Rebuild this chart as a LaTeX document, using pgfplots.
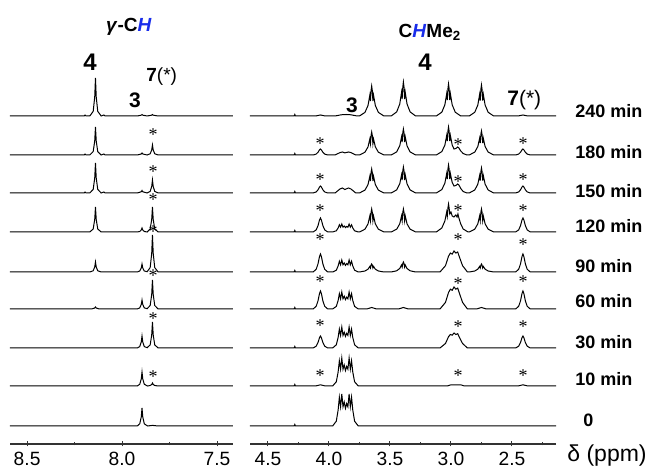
\documentclass[border=0pt]{standalone}
\usepackage{fontspec}
\setmainfont{Liberation Sans}
\newfontfamily\starfont{Liberation Serif}
\usepackage{xcolor}
\usepackage{pgfplots}
\pgfplotsset{compat=1.18}
\definecolor{hblue}{RGB}{25,45,235}

% 1 px of the reference = 0.5pt; 1 y unit = 1 px
\pgfplotsset{
  nmr/.style={
    scale only axis, height=222pt, ymin=0, ymax=444,
    x dir=reverse, axis x line*=bottom, axis y line=none,
    clip=false, anchor=south west,
    x axis line style={-, line width=0.6pt, draw=black!80},
    tick style={black!80, line width=0.5pt},
    major tick length=2.5pt, minor tick length=1.5pt, tick align=center,
    xticklabel style={font=\fontsize{9.6}{9.6}\selectfont, inner sep=0pt, yshift=-2.6pt},
    /pgf/number format/fixed, /pgf/number format/fixed zerofill,
    /pgf/number format/precision=1, /pgf/number format/assume math mode=true,
  },
  spec/.style={black, line width=0.5pt, mark=none},
}

\begin{document}
\begin{tikzpicture}
\useasboundingbox (0,0) rectangle (324pt,234.5pt);

% ---------------- gamma-CH region ----------------
\begin{axis}[nmr, at={(5pt,12.5pt)}, width=111.5pt,
  xmin=7.416, xmax=8.59,
  xtick={7.5,8,8.5}, minor xtick={7.75,8.25}]
% 240 min
\addplot[spec] table[row sep=\\, y expr=\thisrow{y}+328] {x y\\
8.59 0\\ 8.20 0\\ 8.195 1\\ 8.19 0\\ 8.17 0\\ 8.152 4.6\\ 8.144 19\\ 8.14 38\\ 8.136 19\\ 8.128 4.6\\ 8.11 0\\ 8.095 1\\ 8.09 0\\
7.92 0\\ 7.899 0.8\\ 7.895 1.5\\ 7.891 0.8\\ 7.868 0\\ 7.844 0.8\\ 7.84 1.5\\ 7.836 0.8\\ 7.81 0\\ 7.416 0\\};
% 180 min
\addplot[spec] table[row sep=\\, y expr=\thisrow{y}+289] {x y\\
8.59 0\\ 8.20 0\\ 8.195 1\\ 8.19 0\\ 8.17 0\\ 8.152 3.4\\ 8.144 14\\ 8.14 28\\ 8.136 14\\ 8.128 3.4\\ 8.11 0\\ 8.095 1\\ 8.09 0\\
7.92 0\\ 7.899 1\\ 7.895 2\\ 7.891 1\\ 7.868 0\\ 7.852 1.2\\ 7.844 5\\ 7.84 10\\ 7.836 5\\ 7.828 1.2\\ 7.81 0\\ 7.416 0\\};
% 150 min
\addplot[spec] table[row sep=\\, y expr=\thisrow{y}+251] {x y\\
8.59 0\\ 8.20 0\\ 8.195 1\\ 8.19 0\\ 8.17 0\\ 8.152 3.6\\ 8.144 15\\ 8.14 30\\ 8.136 15\\ 8.128 3.6\\ 8.11 0\\ 8.095 1\\ 8.09 0\\
7.92 0\\ 7.899 1.2\\ 7.895 2.5\\ 7.891 1.2\\ 7.868 0\\ 7.852 1.6\\ 7.844 6.5\\ 7.84 13\\ 7.836 6.5\\ 7.828 1.6\\ 7.81 0\\ 7.416 0\\};
% 120 min
\addplot[spec] table[row sep=\\, y expr=\thisrow{y}+212] {x y\\
8.59 0\\ 8.17 0\\ 8.152 3\\ 8.144 12.5\\ 8.14 25\\ 8.136 12.5\\ 8.128 3\\ 8.11 0\\
7.92 0\\ 7.907 0.5\\ 7.899 2\\ 7.895 4\\ 7.891 2\\ 7.883 0.5\\ 7.868 0\\ 7.852 3\\ 7.844 12.5\\ 7.84 25\\ 7.836 12.5\\ 7.828 3\\ 7.81 0\\ 7.416 0\\};
% 90 min
\addplot[spec] table[row sep=\\, y expr=\thisrow{y}+172] {x y\\
8.59 0\\ 8.17 0\\ 8.152 1.2\\ 8.144 5\\ 8.14 10\\ 8.136 5\\ 8.128 1.2\\ 8.11 0\\
7.92 0\\ 7.907 1\\ 7.899 4\\ 7.895 8\\ 7.891 4\\ 7.883 1\\ 7.868 0.3\\ 7.852 4.4\\ 7.844 18.5\\ 7.84 37\\ 7.836 18.5\\ 7.828 4.4\\ 7.81 0\\ 7.416 0\\};
% 60 min
\addplot[spec] table[row sep=\\, y expr=\thisrow{y}+135] {x y\\
8.59 0\\ 8.16 0\\ 8.144 1\\ 8.14 2\\ 8.136 1\\ 8.12 0\\
7.92 0\\ 7.907 1.1\\ 7.899 4.5\\ 7.895 9\\ 7.891 4.5\\ 7.883 1.1\\ 7.868 0.3\\ 7.852 3.5\\ 7.844 14.5\\ 7.84 29\\ 7.836 14.5\\ 7.828 3.5\\ 7.81 0\\ 7.416 0\\};
% 30 min
\addplot[spec] table[row sep=\\, y expr=\thisrow{y}+96] {x y\\
8.59 0\\ 7.92 0\\ 7.907 1.4\\ 7.899 6\\ 7.895 12\\ 7.891 6\\ 7.883 1.4\\ 7.868 0.3\\ 7.852 3.1\\ 7.844 13\\ 7.84 26\\ 7.836 13\\ 7.828 3.1\\ 7.81 0\\ 7.416 0\\};
% 10 min
\addplot[spec] table[row sep=\\, y expr=\thisrow{y}+58] {x y\\
8.59 0\\ 7.92 0\\ 7.907 1.7\\ 7.899 7\\ 7.895 14\\ 7.891 7\\ 7.883 1.7\\ 7.866 0\\ 7.852 0.5\\ 7.844 1.5\\ 7.84 3\\ 7.836 1.5\\ 7.828 0.5\\ 7.81 0\\ 7.416 0\\};
% 0
\addplot[spec] table[row sep=\\, y expr=\thisrow{y}+18] {x y\\
8.59 0\\ 7.92 0\\ 7.907 2.2\\ 7.899 9\\ 7.895 18\\ 7.891 9\\ 7.883 2.2\\ 7.866 0\\ 7.84 0.6\\ 7.81 0\\ 7.416 0\\};
\end{axis}

% ---------------- CHMe2 region ----------------
\begin{axis}[nmr, at={(125pt,12.5pt)}, width=153pt,
  xmin=2.139, xmax=4.6475,
  xtick={2.5,3,3.5,4,4.5}, minor xtick={2.25,2.75,3.25,3.75,4.25}]
% 240 min
\addplot[spec] table[row sep=\\, y expr=\thisrow{y}+328] {x y\\
4.6475 0\\ 4.285 0\\ 4.28 1.5\\ 4.275 0\\ 4.11 0\\ 4.07 1\\ 4.03 0\\ 3.95 0\\ 3.90 1.2\\ 3.86 1.5\\ 3.82 1.2\\ 3.77 0\\
3.75 0\\ 3.705 3.6\\ 3.68 10.5\\ 3.665 21\\ 3.66 15\\ 3.655 25.5\\ 3.65 30\\ 3.645 25.5\\ 3.64 15\\ 3.635 21\\ 3.62 10.5\\ 3.595 3.6\\ 3.55 0\\
3.49 0\\ 3.445 4.1\\ 3.42 11.9\\ 3.405 23.8\\ 3.40 17\\ 3.395 28.9\\ 3.39 34\\ 3.385 28.9\\ 3.38 17\\ 3.375 23.8\\ 3.36 11.9\\ 3.335 4.1\\ 3.29 0\\
3.12 0\\ 3.075 3.8\\ 3.05 11.2\\ 3.035 22.4\\ 3.03 16\\ 3.025 27.2\\ 3.02 32\\ 3.015 27.2\\ 3.01 16\\ 3.005 22.4\\ 2.99 11.2\\ 2.965 3.8\\ 2.92 0\\
2.85 0\\ 2.805 3.7\\ 2.78 10.9\\ 2.765 21.7\\ 2.76 15.5\\ 2.755 26.4\\ 2.75 31\\ 2.745 26.4\\ 2.74 15.5\\ 2.735 21.7\\ 2.72 10.9\\ 2.695 3.7\\ 2.65 0\\
2.45 0\\ 2.41 1\\ 2.37 0\\ 2.139 0\\};
% 180 min
\addplot[spec] table[row sep=\\, y expr=\thisrow{y}+289] {x y\\
4.6475 0\\ 4.285 0\\ 4.28 1.5\\ 4.275 0\\ 4.13 0\\ 4.105 0.9\\ 4.09 2.7\\ 4.078 5.1\\ 4.07 6\\ 4.062 5.1\\ 4.05 2.7\\ 4.035 0.9\\ 4.01 0\\
3.95 0\\ 3.91 2.4\\ 3.89 3\\ 3.87 2.1\\ 3.84 3\\ 3.82 2.4\\ 3.78 0\\
3.75 0\\ 3.705 2.8\\ 3.68 8.1\\ 3.665 16.1\\ 3.66 11.5\\ 3.655 19.6\\ 3.65 23\\ 3.645 19.6\\ 3.64 11.5\\ 3.635 16.1\\ 3.62 8.1\\ 3.595 2.8\\ 3.55 0\\
3.49 0\\ 3.445 3.1\\ 3.42 9.1\\ 3.405 18.2\\ 3.40 13\\ 3.395 22.1\\ 3.39 26\\ 3.385 22.1\\ 3.38 13\\ 3.375 18.2\\ 3.36 9.1\\ 3.335 3.1\\ 3.29 0\\
3.12 0\\ 3.075 3.4\\ 3.05 9.8\\ 3.035 19.6\\ 3.03 14\\ 3.025 23.8\\ 3.02 28\\ 3.015 23.8\\ 3.01 14\\ 3.005 19.6\\ 2.99 10\\ 2.975 6\\ 2.96 6.5\\ 2.945 8\\ 2.935 7\\ 2.92 4\\ 2.90 1.5\\ 2.87 0\\
2.85 0\\ 2.805 2.9\\ 2.78 8.4\\ 2.765 16.8\\ 2.76 12\\ 2.755 20.4\\ 2.75 24\\ 2.745 20.4\\ 2.74 12\\ 2.735 16.8\\ 2.72 8.4\\ 2.695 2.9\\ 2.65 0\\
2.47 0\\ 2.445 0.9\\ 2.43 2.7\\ 2.418 5.1\\ 2.41 6\\ 2.402 5.1\\ 2.39 2.7\\ 2.375 0.9\\ 2.35 0\\ 2.139 0\\};
% 150 min
\addplot[spec] table[row sep=\\, y expr=\thisrow{y}+251] {x y\\
4.6475 0\\ 4.285 0\\ 4.28 1.5\\ 4.275 0\\ 4.13 0\\ 4.105 1.05\\ 4.09 3.15\\ 4.078 5.95\\ 4.07 7\\ 4.062 5.95\\ 4.05 3.15\\ 4.035 1.05\\ 4.01 0\\
3.95 0\\ 3.91 4\\ 3.89 5\\ 3.87 3.5\\ 3.84 5\\ 3.82 4\\ 3.78 0\\
3.75 0\\ 3.705 2.9\\ 3.68 8.4\\ 3.665 16.8\\ 3.66 12\\ 3.655 20.4\\ 3.65 24\\ 3.645 20.4\\ 3.64 12\\ 3.635 16.8\\ 3.62 8.4\\ 3.595 2.9\\ 3.55 0\\
3.49 0\\ 3.445 3.1\\ 3.42 9.1\\ 3.405 18.2\\ 3.40 13\\ 3.395 22.1\\ 3.39 26\\ 3.385 22.1\\ 3.38 13\\ 3.375 18.2\\ 3.36 9.1\\ 3.335 3.1\\ 3.29 0\\
3.12 0\\ 3.075 3.4\\ 3.05 9.8\\ 3.035 19.6\\ 3.03 14\\ 3.025 23.8\\ 3.02 28\\ 3.015 23.8\\ 3.01 14\\ 3.005 19.6\\ 2.99 10.5\\ 2.975 7\\ 2.96 7.5\\ 2.945 9\\ 2.935 8\\ 2.92 4.5\\ 2.90 1.5\\ 2.87 0\\
2.85 0\\ 2.805 3\\ 2.78 8.8\\ 2.765 17.5\\ 2.76 12.5\\ 2.755 21.3\\ 2.75 25\\ 2.745 21.3\\ 2.74 12.5\\ 2.735 17.5\\ 2.72 8.8\\ 2.695 3\\ 2.65 0\\
2.47 0\\ 2.445 1.05\\ 2.43 3.15\\ 2.418 5.95\\ 2.41 7\\ 2.402 5.95\\ 2.39 3.15\\ 2.375 1.05\\ 2.35 0\\ 2.139 0\\};
% 120 min
\addplot[spec] table[row sep=\\, y expr=\thisrow{y}+212] {x y\\
4.6475 0\\ 4.285 0\\ 4.28 1.5\\ 4.275 0\\ 4.13 0\\ 4.105 2.1\\ 4.09 6.3\\ 4.078 11.9\\ 4.07 14\\ 4.062 11.9\\ 4.05 6.3\\ 4.035 2.1\\ 4.01 0\\
3.97 0\\ 3.94 1.2\\ 3.925 4\\ 3.915 7.2\\ 3.905 4.8\\ 3.895 8\\ 3.885 4.8\\ 3.875 6\\ 3.865 4.4\\ 3.855 5.6\\ 3.845 4.8\\ 3.835 8\\ 3.825 4.8\\ 3.815 7.2\\ 3.805 4\\ 3.79 1.2\\ 3.76 0\\
3.75 0\\ 3.705 2.8\\ 3.68 8.1\\ 3.665 16.1\\ 3.66 11.5\\ 3.655 19.6\\ 3.65 23\\ 3.645 19.6\\ 3.64 11.5\\ 3.635 16.1\\ 3.62 8.1\\ 3.595 2.8\\ 3.55 0\\
3.49 0\\ 3.445 2.8\\ 3.42 8.1\\ 3.405 16.1\\ 3.40 11.5\\ 3.395 19.6\\ 3.39 23\\ 3.385 19.6\\ 3.38 11.5\\ 3.375 16.1\\ 3.36 8.1\\ 3.335 2.8\\ 3.29 0\\
3.12 0\\ 3.075 4\\ 3.05 11\\ 3.035 20\\ 3.03 16\\ 3.025 24\\ 3.02 28\\ 3.015 24\\ 3.01 18\\ 3.0 20\\ 2.99 16\\ 2.975 15\\ 2.96 17\\ 2.95 15\\ 2.943 18\\ 2.935 14\\ 2.92 8\\ 2.90 3\\ 2.86 0\\
2.85 0\\ 2.805 2.8\\ 2.78 8.1\\ 2.765 16.1\\ 2.76 11.5\\ 2.755 19.6\\ 2.75 23\\ 2.745 19.6\\ 2.74 11.5\\ 2.735 16.1\\ 2.72 8.1\\ 2.695 2.8\\ 2.65 0\\
2.47 0\\ 2.445 2.1\\ 2.43 6.3\\ 2.418 11.9\\ 2.41 14\\ 2.402 11.9\\ 2.39 6.3\\ 2.375 2.1\\ 2.35 0\\ 2.139 0\\};
% 90 min
\addplot[spec] table[row sep=\\, y expr=\thisrow{y}+172] {x y\\
4.6475 0\\ 4.285 0\\ 4.28 1.5\\ 4.275 0\\ 4.13 0\\ 4.105 2.7\\ 4.09 8.1\\ 4.078 15.3\\ 4.07 18\\ 4.062 15.3\\ 4.05 8.1\\ 4.035 2.7\\ 4.01 0\\
3.97 0\\ 3.94 1.8\\ 3.925 6\\ 3.915 10.8\\ 3.905 7.2\\ 3.895 12\\ 3.885 7.2\\ 3.875 9\\ 3.865 6.6\\ 3.855 8.4\\ 3.845 7.2\\ 3.835 12\\ 3.825 7.2\\ 3.815 10.8\\ 3.805 6\\ 3.79 1.8\\ 3.76 0\\
3.75 0\\ 3.705 1\\ 3.68 2.8\\ 3.665 5.6\\ 3.66 4\\ 3.655 6.8\\ 3.65 8\\ 3.645 6.8\\ 3.64 4\\ 3.635 5.6\\ 3.62 2.8\\ 3.595 1\\ 3.55 0\\
3.49 0\\ 3.445 1.2\\ 3.42 3.5\\ 3.405 7\\ 3.40 5\\ 3.395 8.5\\ 3.39 10\\ 3.385 8.5\\ 3.38 5\\ 3.375 7\\ 3.36 3.5\\ 3.335 1.2\\ 3.29 0\\
3.09 0\\ 3.045 6.3\\ 3.02 15.8\\ 3.005 18.9\\ 2.99 17.9\\ 2.975 21\\ 2.96 18.9\\ 2.945 20\\ 2.93 14.7\\ 2.905 6.3\\ 2.865 0\\
2.85 0\\ 2.805 1\\ 2.78 2.8\\ 2.765 5.6\\ 2.76 4\\ 2.755 6.8\\ 2.75 8\\ 2.745 6.8\\ 2.74 4\\ 2.735 5.6\\ 2.72 2.8\\ 2.695 1\\ 2.65 0\\
2.47 0\\ 2.445 2.7\\ 2.43 8.1\\ 2.418 15.3\\ 2.41 18\\ 2.402 15.3\\ 2.39 8.1\\ 2.375 2.7\\ 2.35 0\\ 2.139 0\\};
% 60 min
\addplot[spec] table[row sep=\\, y expr=\thisrow{y}+135] {x y\\
4.6475 0\\ 4.285 0\\ 4.28 1.5\\ 4.275 0\\ 4.13 0\\ 4.105 2.7\\ 4.09 8.1\\ 4.078 15.3\\ 4.07 18\\ 4.062 15.3\\ 4.05 8.1\\ 4.035 2.7\\ 4.01 0\\
3.97 0\\ 3.94 2.6\\ 3.925 8.5\\ 3.915 15.3\\ 3.905 10.2\\ 3.895 17\\ 3.885 10.2\\ 3.875 12.8\\ 3.865 9.4\\ 3.855 11.9\\ 3.845 10.2\\ 3.835 17\\ 3.825 10.2\\ 3.815 15.3\\ 3.805 8.5\\ 3.79 2.6\\ 3.76 0\\
3.69 0\\ 3.65 1.5\\ 3.61 0\\ 3.43 0\\ 3.39 1.5\\ 3.35 0\\
3.09 0\\ 3.045 6.6\\ 3.02 16.5\\ 3.005 19.8\\ 2.99 18.7\\ 2.975 22\\ 2.96 19.8\\ 2.945 20.9\\ 2.93 15.4\\ 2.905 6.6\\ 2.865 0\\
2.79 0\\ 2.75 1.5\\ 2.71 0\\
2.47 0\\ 2.445 2.7\\ 2.43 8.1\\ 2.418 15.3\\ 2.41 18\\ 2.402 15.3\\ 2.39 8.1\\ 2.375 2.7\\ 2.35 0\\ 2.139 0\\};
% 30 min
\addplot[spec] table[row sep=\\, y expr=\thisrow{y}+96] {x y\\
4.6475 0\\ 4.285 0\\ 4.28 1.5\\ 4.275 0\\ 4.13 0\\ 4.105 1.8\\ 4.09 5.4\\ 4.078 10.2\\ 4.07 12\\ 4.062 10.2\\ 4.05 5.4\\ 4.035 1.8\\ 4.01 0\\
3.97 0\\ 3.94 3.2\\ 3.925 10.5\\ 3.915 18.9\\ 3.905 12.6\\ 3.895 21\\ 3.885 12.6\\ 3.875 15.8\\ 3.865 11.6\\ 3.855 14.7\\ 3.845 12.6\\ 3.835 21\\ 3.825 12.6\\ 3.815 18.9\\ 3.805 10.5\\ 3.79 3.2\\ 3.76 0\\
3.09 0\\ 3.045 4.5\\ 3.02 11.3\\ 3.005 13.5\\ 2.99 12.8\\ 2.975 15\\ 2.96 13.5\\ 2.945 14.3\\ 2.93 10.5\\ 2.905 4.5\\ 2.865 0\\
2.47 0\\ 2.445 1.8\\ 2.43 5.4\\ 2.418 10.2\\ 2.41 12\\ 2.402 10.2\\ 2.39 5.4\\ 2.375 1.8\\ 2.35 0\\ 2.139 0\\};
% 10 min
\addplot[spec] table[row sep=\\, y expr=\thisrow{y}+58] {x y\\
4.6475 0\\ 4.285 0\\ 4.28 1.5\\ 4.275 0\\ 4.11 0\\ 4.07 1.2\\ 4.03 0\\
3.97 0\\ 3.94 4.2\\ 3.925 14\\ 3.915 25.2\\ 3.905 16.8\\ 3.895 28\\ 3.885 16.8\\ 3.875 21\\ 3.865 15.4\\ 3.855 19.6\\ 3.845 16.8\\ 3.835 28\\ 3.825 16.8\\ 3.815 25.2\\ 3.805 14\\ 3.79 4.2\\ 3.76 0\\
3.03 0\\ 3.0 1.2\\ 2.96 1\\ 2.92 1.2\\ 2.89 0\\ 2.45 0\\ 2.41 1.2\\ 2.37 0\\ 2.139 0\\};
% 0
\addplot[spec] table[row sep=\\, y expr=\thisrow{y}+18] {x y\\
4.6475 0\\ 4.285 0\\ 4.28 1.5\\ 4.275 0\\
3.97 0\\ 3.94 4.8\\ 3.925 16\\ 3.915 28.8\\ 3.905 19.2\\ 3.895 32\\ 3.885 19.2\\ 3.875 24\\ 3.865 17.6\\ 3.855 22.4\\ 3.845 19.2\\ 3.835 32\\ 3.825 19.2\\ 3.815 28.8\\ 3.805 16\\ 3.79 4.8\\ 3.76 0\\ 2.139 0\\};
\end{axis}

% ---------------- text, in reference pixel coordinates ----------------
\begin{scope}[x=0.5pt, y=-0.5pt, yshift=234.5pt]
\node[font=\bfseries\fontsize{9.5}{9.5}\selectfont] at (129,27) {\textit{γ}-C\textcolor{hblue}{\textit{H}}};
\node[font=\bfseries\fontsize{9.5}{9.5}\selectfont] at (430,32) {C\textcolor{hblue}{\textit{H}}Me\textsubscript{2}};
\node[font=\bfseries\fontsize{12}{12}\selectfont] at (90,62) {4};
\node[font=\bfseries\fontsize{10.5}{10.5}\selectfont] at (135,100) {3};
\node[font=\fontsize{9.5}{9.5}\selectfont, anchor=west, inner sep=0pt] at (146,77) {\textbf{7}(*)};
\node[font=\bfseries\fontsize{12}{12}\selectfont] at (425,62) {4};
\node[font=\bfseries\fontsize{10.5}{10.5}\selectfont] at (352,105) {3};
\node[font=\fontsize{10.5}{10.5}\selectfont, anchor=west, inner sep=0pt] at (507,100) {\textbf{7}(*)};
% time labels
\begin{scope}[every node/.style={font=\bfseries\fontsize{9}{9}\selectfont, anchor=west, inner sep=0pt}]
\node at (575,111) {240 min};
\node at (575,152) {180 min};
\node at (575,191) {150 min};
\node at (575,226) {120 min};
\node at (575,266) {90 min};
\node at (575,301) {60 min};
\node at (575,342) {30 min};
\node at (575,379) {10 min};
\node at (583,420) {0};
\end{scope}
\node[font=\fontsize{11.5}{11.5}\selectfont, anchor=west, inner sep=0pt] at (567,456) {δ (ppm)};
% asterisks
\begin{scope}[every node/.style={font=\starfont\fontsize{9}{9}\selectfont, inner sep=0pt}]
\foreach \y in {133,170,198,230,274,317,375} \node at (153,\y+2) {*};
\foreach \y/\yy/\yyy in {142/143/142,178/180/178,209/209/209,238/238/243,280/282/280,324/325/325,374/374/374}{
  \node at (320,\y+2) {*}; \node at (458,\yy+2) {*}; \node at (523,\yyy+2) {*};}
\end{scope}
\end{scope}
\end{tikzpicture}
\end{document}
